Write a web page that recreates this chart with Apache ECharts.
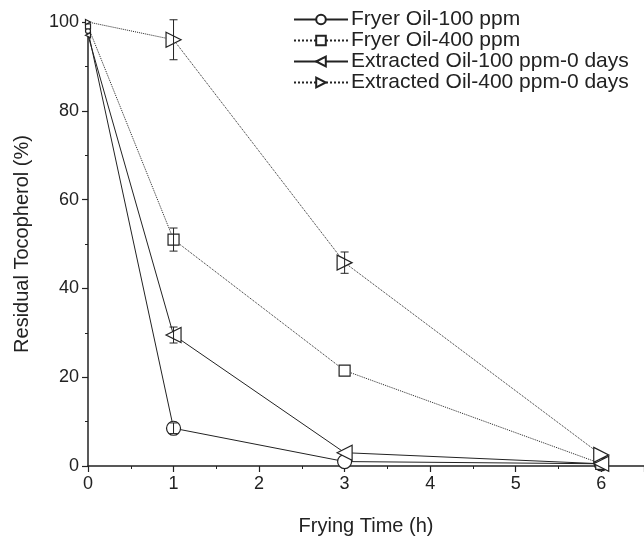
<!DOCTYPE html>
<html>
<head>
<meta charset="utf-8">
<style>
  html, body { margin: 0; padding: 0; background: #fff; }
  #chart { width: 644px; height: 541px; }
</style>
<script src="https://cdn.jsdelivr.net/npm/echarts@6/dist/echarts.min.js"></script>
</head>
<body>
<div id="chart"></div>
<script>
// frying time (h)
var times = [0, 1, 3, 6];

// residual tocopherol (%)
var fryer100 = [98, 8.5, 1, 0.5];
var fryer400 = [99, 51, 21.5, 0.5];
var extr100 = [97, 29.5, 3, 0.5];
var extr400 = [100, 96, 45.8, 2.5];

// error bars (+/-)
var fryer100Err = [0, 1.2, 0, 0];
var fryer400Err = [0, 2.6, 0, 0];
var extr100Err = [0, 1.8, 0, 0];
var extr400Err = [0, 4.5, 2.4, 0];

var names = [
  'Fryer Oil-100 ppm',
  'Fryer Oil-400 ppm',
  'Extracted Oil-100 ppm-0 days',
  'Extracted Oil-400 ppm-0 days'
];

var leftTri = 'path://M0,5L10,0L10,10Z';
var rightTri = 'path://M0,0L10,5L0,10Z';

function lineSeries(name, ys, symbol, size, dash) {
  // markers at t=0 are drawn very small in the original
  var data = times.map(function (t, i) {
    return i === 0 ? { value: [t, ys[i]], symbolSize: 5 } : [t, ys[i]];
  });
  return {
    name: name,
    type: 'line',
    data: data,
    symbol: symbol,
    symbolSize: size,
    showAllSymbol: true,
    z: 3,
    itemStyle: { color: '#fff', borderColor: '#222', borderWidth: 1.2 },
    lineStyle: { color: '#222', width: 1, type: dash },
    emphasis: { disabled: true }
  };
}

function errSeries(ys, errs) {
  var data = times.map(function (t, i) { return [t, ys[i], errs[i]]; });
  return {
    type: 'custom',
    silent: true,
    z: 4,
    data: data,
    renderItem: function (params, api) {
      var x = api.value(0), y = api.value(1), e = api.value(2);
      if (!e) return null;
      var lo = api.coord([x, y - e]);
      var hi = api.coord([x, y + e]);
      var st = { stroke: '#222', lineWidth: 1 };
      return {
        type: 'group',
        children: [
          { type: 'line', shape: { x1: lo[0], y1: lo[1], x2: hi[0], y2: hi[1] }, style: st },
          { type: 'line', shape: { x1: lo[0] - 4, y1: lo[1], x2: lo[0] + 4, y2: lo[1] }, style: st },
          { type: 'line', shape: { x1: hi[0] - 4, y1: hi[1], x2: hi[0] + 4, y2: hi[1] }, style: st }
        ]
      };
    }
  };
}

var chart = echarts.init(document.getElementById('chart'));
var font = 'Liberation Sans, Arial, sans-serif';

chart.setOption({
  animation: false,
  grid: { left: 88, right: 0, top: 22, bottom: 73 },
  legend: {
    orient: 'vertical',
    left: 288,
    top: 4,
    itemWidth: 54,
    itemHeight: 12,
    itemGap: 0,
    data: names,
    textStyle: { fontFamily: font, fontSize: 21, color: '#222', padding: [0, 0, 0, -2] }
  },
  xAxis: {
    type: 'value',
    min: 0,
    max: 6.5,
    interval: 1,
    name: 'Frying Time (h)',
    nameLocation: 'middle',
    nameGap: 50,
    nameTextStyle: { fontFamily: font, fontSize: 20, color: '#222' },
    axisLine: { onZero: false, lineStyle: { color: '#222', width: 1.5 } },
    axisTick: { length: 6, lineStyle: { color: '#222', width: 1.2 } },
    minorTick: { show: true, splitNumber: 2, length: 3, lineStyle: { color: '#222' } },
    splitLine: { show: false },
    axisLabel: { showMaxLabel: false, fontFamily: font, fontSize: 18, color: '#222', margin: 9 }
  },
  yAxis: {
    type: 'value',
    min: 0,
    max: 100,
    interval: 20,
    name: 'Residual Tocopherol (%)',
    nameLocation: 'middle',
    nameGap: 56,
    nameTextStyle: { fontFamily: font, fontSize: 20, color: '#222' },
    axisLine: { show: true, lineStyle: { color: '#222', width: 1.5 } },
    axisTick: { show: true, length: 6, lineStyle: { color: '#222', width: 1.2 } },
    minorTick: { show: true, splitNumber: 2, length: 3, lineStyle: { color: '#222' } },
    splitLine: { show: false },
    axisLabel: { fontFamily: font, fontSize: 18, color: '#222', margin: 9 }
  },
  series: [
    lineSeries(names[0], fryer100, 'circle', 14, 'solid'),
    lineSeries(names[1], fryer400, 'rect', 11, 'dotted'),
    lineSeries(names[2], extr100, leftTri, 15, 'solid'),
    lineSeries(names[3], extr400, rightTri, 15, 'dotted'),
    errSeries(fryer100, fryer100Err),
    errSeries(fryer400, fryer400Err),
    errSeries(extr100, extr100Err),
    errSeries(extr400, extr400Err)
  ]
});
</script>
</body>
</html>
